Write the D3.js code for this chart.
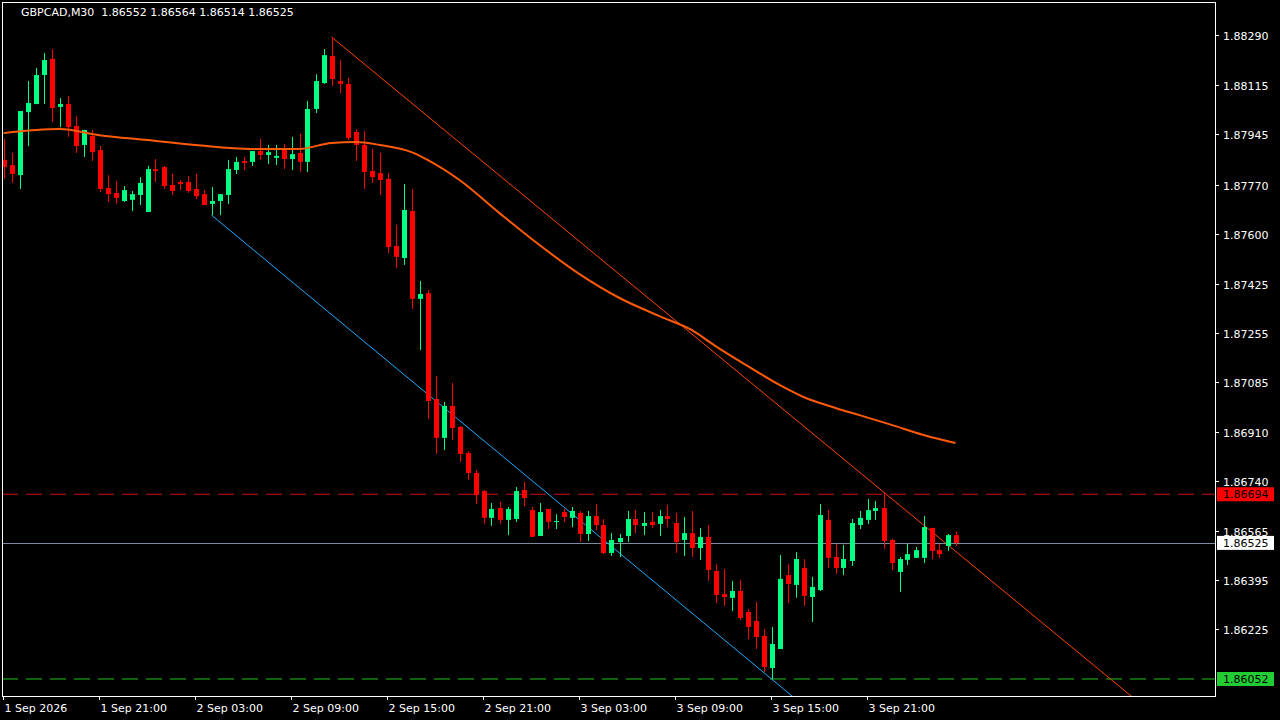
<!DOCTYPE html>
<html><head><meta charset="utf-8">
<script src="https://cdn.jsdelivr.net/npm/d3@7/dist/d3.min.js"></script>
<style>body{margin:0;background:#000;}svg{display:block;}</style>
</head><body>
<svg id="c" width="1280" height="720"></svg>
<script>
const symbolTitle = "GBPCAD,M30  1.86552 1.86564 1.86514 1.86525";
const opens = [187856,187838,187803,188022,188050,188151,188207,188040,188050,187974,187908,187939,187890,187758,187741,187713,187717,187734,187675,187824,
187831,187769,187779,187779,187755,187737,187703,187713,187734,187821,187852,187849,187887,187873,187863,187890,187859,187880,187849,188033,
188123,188217,188130,188120,187953,187908,187817,187810,187790,187557,187515,187678,187373,187393,187025,186890,187001,186928,186837,186768,
186705,186612,186646,186605,186608,186709,186639,186549,186643,186598,186632,186612,186629,186556,186618,186587,186490,186528,186549,186608,
186584,186598,186591,186618,186594,186535,186559,186507,186546,186427,186347,186334,186358,186285,186254,186202,186090,186156,186413,186379,
186438,186337,186361,186605,186476,186438,186462,186587,186605,186636,186646,186535,186424,186466,186473,186473,186577,186500,186514,186552];
const highs = [187929,187880,188026,188130,188175,188227,188241,188071,188078,188009,187960,187960,187904,187803,187783,187765,187748,187796,187835,187859,
187835,187807,187786,187800,187807,187751,187762,187737,187856,187866,187866,187887,187929,187908,187908,187911,187936,187946,188061,188154,
188241,188283,188203,188141,187963,187956,187894,187880,187810,187630,187772,187755,187435,187404,187105,187015,187081,186931,186844,186778,
186709,186664,186667,186650,186719,186737,186650,186664,186643,186625,186643,186650,186636,186636,186660,186608,186559,186556,186636,186639,
186632,186632,186639,186657,186629,186615,186636,186577,186587,186452,186434,186393,186396,186295,186320,186226,186233,186483,186452,186493,
186469,186407,186660,186639,186521,186518,186608,186636,186678,186671,186702,186539,186476,186521,186511,186618,186577,186521,186556,186564];
const lows = [187790,187776,187755,187904,188050,188050,187988,187970,187936,187880,187866,187852,187744,187710,187703,187710,187678,187699,187675,187779,
187755,187734,187751,187741,187720,187699,187664,187664,187703,187807,187821,187835,187856,187842,187838,187824,187821,187814,187814,188019,
188120,188113,188088,187925,187852,187755,187776,187734,187532,187480,187491,187338,187195,186956,186834,186848,186883,186806,186744,186660,
186591,186584,186591,186552,186598,186653,186546,186549,186573,186573,186598,186580,186528,186532,186570,186486,186480,186476,186528,186559,
186552,186577,186549,186580,186490,186480,186476,186466,186393,186316,186306,186288,186257,186191,186156,186076,186052,186156,186316,186334,
186306,186250,186358,186438,186417,186413,186445,186573,186591,186605,186504,186431,186354,186448,186473,186455,186469,186473,186497,186514];
const closes = [187831,187807,188026,188054,188151,188203,188036,188050,187970,187904,187960,187883,187755,187737,187724,187751,187737,187776,187824,187817,
187765,187748,187772,187748,187730,187699,187713,187737,187824,187849,187845,187887,187873,187883,187870,187859,187876,187849,188033,188130,
188220,188137,188120,187932,187908,187814,187796,187786,187553,187519,187682,187373,187390,187018,186890,187001,186924,186834,186768,186691,
186612,186643,186605,186643,186705,186681,186546,186632,186598,186601,186615,186636,186556,186618,186587,186490,186535,186542,186608,186587,
186594,186587,186618,186608,186528,186559,186507,186546,186431,186344,186337,186358,186264,186233,186198,186094,186174,186400,186382,186469,
186341,186372,186622,186473,186438,186469,186594,186612,186639,186646,186532,186455,186469,186486,186500,186580,186497,186486,186552,186525];
const maIdx = [0,7,12,18,24,31,37,41,44,47,51,53,57,62,67,72,77,82,86,89,93,97,100,104,107,111,115,119];
const maVal = [187949,187963,187942,187925,187908,187894,187894,187915,187918,187908,187883,187856,187786,187671,187560,187459,187376,187313,187265,187209,187140,187074,187032,186994,186969,186935,186900,186872];
const timeIdx = [0,12,24,36,48,60,72,84,96,108];
const timeLabels = ["1 Sep 2026","1 Sep 21:00","2 Sep 03:00","2 Sep 09:00","2 Sep 15:00","2 Sep 21:00","3 Sep 03:00","3 Sep 09:00","3 Sep 15:00","3 Sep 21:00"];
const priceTicks = ["1.88290","1.88115","1.87945","1.87770","1.87600","1.87425","1.87255","1.87085","1.86910","1.86740","1.86565","1.86395","1.86225"];
const redLevel = "1.86694", greenLevel = "1.86052", bidLevel = "1.86525";
const resistIdx = [41,110], supportIdx = [26,96];

const P = v => v/100000;
const svg = d3.select("#c");
const L=2, R=1215, T=2, B=696;
const x = d3.scaleLinear().domain([0,119]).range([3.5,955.5]);
const y = d3.scaleLinear().domain([1.86052,1.88290]).range([679,35]);
const font = "DejaVu Sans";

svg.append("defs").append("clipPath").attr("id","pc").append("rect").attr("x",L).attr("y",T).attr("width",R-L).attr("height",B-T);
const g = svg.append("g").attr("clip-path","url(#pc)");

// horizontal levels
g.append("line").attr("x1",L).attr("x2",R).attr("y1",y(+redLevel)).attr("y2",y(+redLevel)).attr("stroke","#d01010").attr("stroke-dasharray","16,8");
g.append("line").attr("x1",L).attr("x2",R).attr("y1",y(+greenLevel)).attr("y2",y(+greenLevel)).attr("stroke","#20c020").attr("stroke-dasharray","16,8");
g.append("line").attr("x1",L).attr("x2",R).attr("y1",Math.round(y(+bidLevel))+0.5).attr("y2",Math.round(y(+bidLevel))+0.5).attr("stroke","#7a8da0");

// trendlines (rays)
function ray(i0,v0,i1,v1,color){
  const x0=x(i0),y0=y(v0),x1=x(i1),y1=y(v1);
  const s=(y1-y0)/(x1-x0); const xe=1400;
  g.append("line").attr("x1",x0).attr("y1",y0).attr("x2",xe).attr("y2",y0+s*(xe-x0)).attr("stroke",color).attr("stroke-width",1);
}
ray(resistIdx[0],P(highs[resistIdx[0]]),resistIdx[1],P(highs[resistIdx[1]]),"#ff4500");
ray(supportIdx[0],P(lows[supportIdx[0]]),supportIdx[1],P(lows[supportIdx[1]]),"#1eaaff");

// candles
const idx = d3.range(opens.length);
g.selectAll(".w").data(idx).join("line")
  .attr("x1",i=>Math.round(x(i))+0.5).attr("x2",i=>Math.round(x(i))+0.5)
  .attr("y1",i=>y(P(highs[i]))).attr("y2",i=>y(P(lows[i])))
  .attr("stroke",i=>closes[i]>=opens[i]?"#00ff80":"#ff0000");
g.selectAll(".b").data(idx).join("rect")
  .attr("x",i=>Math.round(x(i))-2).attr("width",5)
  .attr("y",i=>y(P(Math.max(opens[i],closes[i]))))
  .attr("height",i=>Math.max(1,Math.abs(y(P(opens[i]))-y(P(closes[i])))))
  .attr("fill",i=>closes[i]>=opens[i]?"#00ff80":"#ff0000");

// MA
g.append("path").datum(maIdx.map((d,k)=>[d,P(maVal[k])]))
  .attr("d",d3.line().x(d=>x(d[0])).y(d=>y(d[1])).curve(d3.curveMonotoneX))
  .attr("fill","none").attr("stroke","#ff5a0a").attr("stroke-width",2);

// frame
svg.append("rect").attr("x",L+0.5).attr("y",T+0.5).attr("width",R-L).attr("height",B-T).attr("fill","none").attr("stroke","#fff");

// price axis
priceTicks.forEach(t=>{
  const yy=Math.round(y(+t))+0.5;
  svg.append("line").attr("x1",R).attr("x2",R+4).attr("y1",yy).attr("y2",yy).attr("stroke","#fff");
  svg.append("text").attr("x",1223).attr("y",yy+4).attr("fill","#fff").attr("font-family",font).attr("font-size",11).text(t);
});
function tag(v,bg,fg){
  const yy=y(+v);
  svg.append("rect").attr("x",1217).attr("y",yy-7).attr("width",57).attr("height",14).attr("fill",bg);
  svg.append("text").attr("x",1223).attr("y",yy+4).attr("fill",fg).attr("font-family",font).attr("font-size",11).text(v);
}
tag(redLevel,"#ff0000","#000");
tag(bidLevel,"#ffffff","#000");
tag(greenLevel,"#22cc33","#000");

// time axis
timeIdx.forEach((ti,k)=>{
  const xx=Math.round(x(ti))-0.5;
  svg.append("line").attr("x1",xx).attr("x2",xx).attr("y1",B).attr("y2",B+4).attr("stroke","#fff");
  svg.append("text").attr("x",xx+1).attr("y",712).attr("fill","#fff").attr("font-family",font).attr("font-size",11).text(timeLabels[k]);
});

svg.append("text").attr("x",21).attr("y",16).attr("fill","#fff").attr("font-family",font).attr("font-size",11).attr("xml:space","preserve").text(symbolTitle);
</script>
</body></html>
